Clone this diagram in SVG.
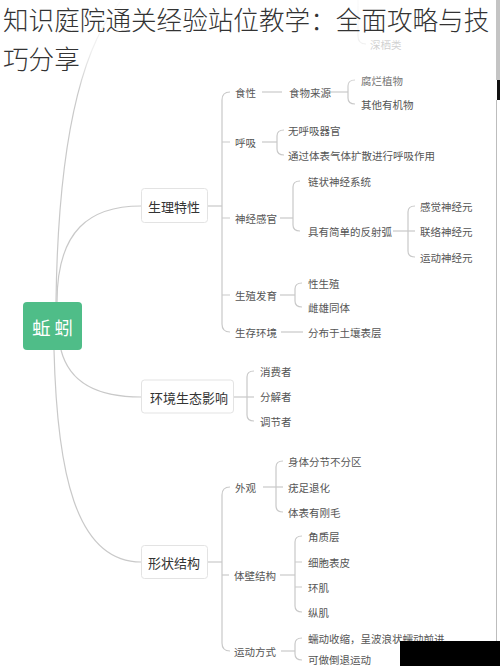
<svg xmlns="http://www.w3.org/2000/svg" width="500" height="666" viewBox="0 0 500 666">
<defs>
<style>
.ln{fill:none;stroke:#c9c9c9;stroke-width:1.2}
.t{font-family:"Noto Sans CJK SC","Noto Sans",sans-serif;font-size:10.5px;fill:#555;dominant-baseline:central}
.m{font-family:"Noto Sans CJK SC","Noto Sans",sans-serif;font-size:13px;fill:#333;dominant-baseline:central}
.box{fill:#fff;stroke:#e3e3e3;stroke-width:1}
.title{font-family:"Noto Sans CJK SC","Noto Sans",sans-serif;font-size:25.6px;font-weight:300;fill:#333}
</style>
<linearGradient id="fade" x1="0" y1="0" x2="0" y2="1">
<stop offset="0" stop-color="#fff" stop-opacity="0.92"/>
<stop offset="0.55" stop-color="#fff" stop-opacity="0.7"/>
<stop offset="1" stop-color="#fff" stop-opacity="0"/>
</linearGradient>
</defs>
<rect width="500" height="666" fill="#fff"/>

<g id="connectors">
<path class="ln" d="M56,302 C58,150 80,30 135,-12"/>
<path class="ln" d="M57,302 C57,230 90,206 141,206"/>
<path class="ln" d="M61,350 C70,385 100,397 141,397"/>
<path class="ln" d="M54,350 C57,470 75,562 141,562"/>
<path class="ln" d="M358,0 L358,36 Q358,44 366,44"/>
<path class="ln" d="M207,206 L222,206"/>
<path class="ln" d="M230,92 Q222,92 222,100 L222,324 Q222,332 230,332"/>
<path class="ln" d="M222,142 L230,142 M222,218 L230,218 M222,295 L230,295"/>
<path class="ln" d="M262,92 L282,92"/>
<path class="ln" d="M330,92 L348,92"/>
<path class="ln" d="M355,80 Q348,80 348,86 L348,98 Q348,104 355,104"/>
<path class="ln" d="M262,142 L277,142"/>
<path class="ln" d="M284,130 Q277,130 277,136 L277,149 Q277,155 284,155"/>
<path class="ln" d="M280,218 L293,218"/>
<path class="ln" d="M300,181 Q293,181 293,187 L293,225 Q293,231 300,231"/>
<path class="ln" d="M393,231 L415,231"/>
<path class="ln" d="M415,206 Q408,206 408,212 L408,251 Q408,257 415,257"/>
<path class="ln" d="M280,295 L295,295"/>
<path class="ln" d="M302,283 Q295,283 295,289 L295,301 Q295,307 302,307"/>
<path class="ln" d="M281,332 L303,332"/>
<path class="ln" d="M233,397 L254,397"/>
<path class="ln" d="M254,371 Q247,371 247,377 L247,415 Q247,421 254,421"/>
<path class="ln" d="M207,562 L222,562"/>
<path class="ln" d="M230,487 Q222,487 222,495 L222,643 Q222,651 230,651"/>
<path class="ln" d="M222,575 L229,575"/>
<path class="ln" d="M263,487 L283,487"/>
<path class="ln" d="M283,461 Q276,461 276,467 L276,506 Q276,512 283,512"/>
<path class="ln" d="M280,575 L295,575"/>
<path class="ln" d="M302,536 Q295,536 295,542 L295,606 Q295,612 302,612"/>
<path class="ln" d="M295,562 L302,562 M295,587 L302,587"/>
<path class="ln" d="M281,651 L295,651"/>
<path class="ln" d="M302,638 Q295,638 295,644 L295,654 Q295,660 302,660"/>
</g>

<g id="root">
<rect x="23" y="302" width="59" height="48" rx="4" fill="#4fbd88"/>
<text x="52.5" y="327" font-family="'Noto Sans CJK SC',sans-serif" font-size="18.5px" fill="#fff" text-anchor="middle" dominant-baseline="central">蚯 蚓</text>
</g>

<g id="n-shengli">
<rect class="box" x="141.5" y="188.5" width="66" height="34" rx="3"/>
<text class="m" x="148" y="206">生理特性</text>
</g>
<g id="n-shixing"><text class="t" x="235" y="92">食性</text></g>
<g id="n-shiwu"><text class="t" x="289" y="92">食物来源</text></g>
<g id="n-fulan"><text class="t" x="361" y="80">腐烂植物</text></g>
<g id="n-qita"><text class="t" x="361" y="104">其他有机物</text></g>
<g id="n-huxi"><text class="t" x="235" y="142">呼吸</text></g>
<g id="n-wu"><text class="t" x="288" y="130">无呼吸器官</text></g>
<g id="n-tongguo"><text class="t" x="288" y="155">通过体表气体扩散进行呼吸作用</text></g>
<g id="n-shenjing"><text class="t" x="235" y="218">神经感官</text></g>
<g id="n-lian"><text class="t" x="308" y="181">链状神经系统</text></g>
<g id="n-fanshe"><text class="t" x="308" y="231">具有简单的反射弧</text></g>
<g id="n-ganjue"><text class="t" x="420" y="206">感觉神经元</text></g>
<g id="n-lianluo"><text class="t" x="420" y="231">联络神经元</text></g>
<g id="n-yundong"><text class="t" x="420" y="257">运动神经元</text></g>
<g id="n-shengzhi"><text class="t" x="235" y="295">生殖发育</text></g>
<g id="n-xing"><text class="t" x="308" y="283">性生殖</text></g>
<g id="n-cixiong"><text class="t" x="308" y="307">雌雄同体</text></g>
<g id="n-shengcun"><text class="t" x="235" y="332">生存环境</text></g>
<g id="n-fenbu"><text class="t" x="308" y="332">分布于土壤表层</text></g>

<g id="n-huanjing">
<rect class="box" x="141.5" y="380" width="92" height="33" rx="3"/>
<text class="m" x="150" y="397">环境生态影响</text>
</g>
<g id="n-xiaofei"><text class="t" x="260" y="371">消费者</text></g>
<g id="n-fenjie"><text class="t" x="260" y="396">分解者</text></g>
<g id="n-tiaojie"><text class="t" x="260" y="421">调节者</text></g>

<g id="n-xingzhuang">
<rect class="box" x="141.5" y="545.5" width="66" height="33" rx="3"/>
<text class="m" x="148" y="562">形状结构</text>
</g>
<g id="n-waiguan"><text class="t" x="235" y="487">外观</text></g>
<g id="n-fenjie2"><text class="t" x="288" y="461">身体分节不分区</text></g>
<g id="n-youzu"><text class="t" x="288" y="487">疣足退化</text></g>
<g id="n-gangmao"><text class="t" x="288" y="512">体表有刚毛</text></g>
<g id="n-tibi"><text class="t" x="234" y="575">体壁结构</text></g>
<g id="n-jiaozhi"><text class="t" x="308" y="536">角质层</text></g>
<g id="n-xibao"><text class="t" x="308" y="562">细胞表皮</text></g>
<g id="n-huanji"><text class="t" x="308" y="587">环肌</text></g>
<g id="n-zongji"><text class="t" x="308" y="612">纵肌</text></g>
<g id="n-yundongfs"><text class="t" x="234" y="651">运动方式</text></g>
<g id="n-ruzhong"><text class="t" x="308" y="638">蠕动收缩，呈波浪状蠕动前进</text></g>
<g id="n-daotui"><text class="t" x="308" y="659">可做倒退运动</text></g>

<g id="n-shenqi"><text class="t" x="370" y="44">深栖类</text></g>

<rect x="0" y="0" width="496" height="92" fill="url(#fade)"/>

<g id="title">
<text class="title" x="3" y="30">知识庭院通关经验站位教学：全面攻略与技</text>
<text class="title" x="3" y="69">巧分享</text>
</g>

<rect x="496" y="0" width="4" height="80" fill="#c4c4c4"/>
<rect x="497" y="80" width="3" height="20" fill="#111"/>
<line x1="496.5" y1="100" x2="496.5" y2="641" stroke="#bdbdbd" stroke-width="1"/>
<rect x="400" y="641" width="100" height="25" fill="#000"/>
</svg>
